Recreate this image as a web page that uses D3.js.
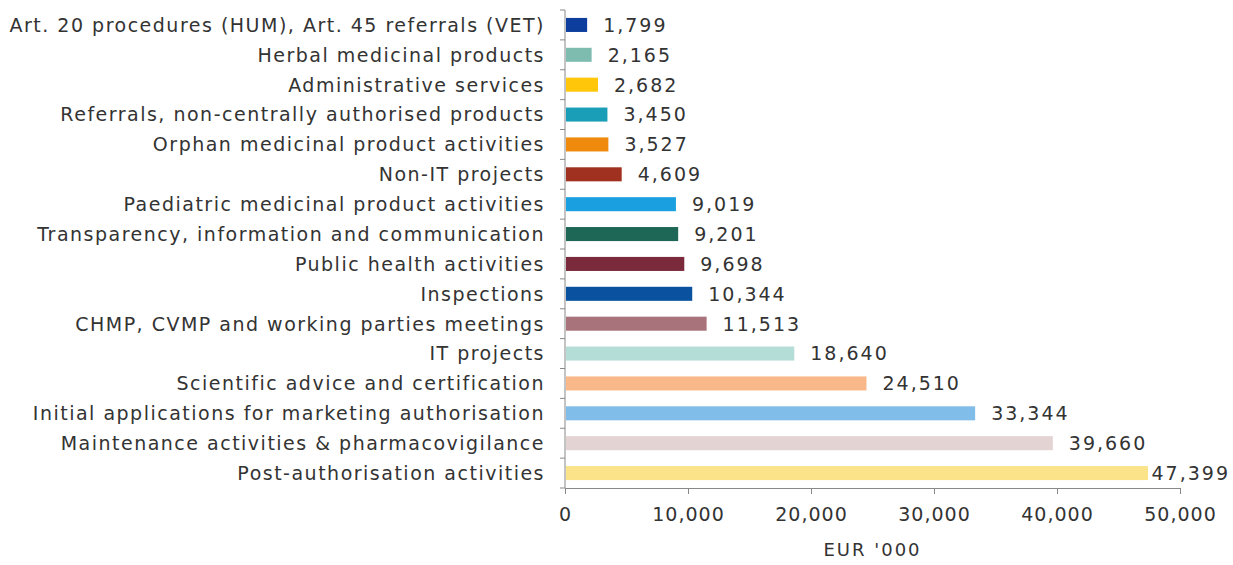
<!DOCTYPE html>
<html>
<head>
<meta charset="utf-8">
<script src="https://cdn.jsdelivr.net/npm/d3@7"></script>
<style>
  body { margin: 0; background: #fff; }
  text { font-family: "DejaVu Sans", Verdana, sans-serif; fill: #333; }
</style>
</head>
<body>
<svg id="chart"></svg>
<script>
// chart size
var width = 1233,
    height = 565;

var categories = [
  "Art. 20 procedures (HUM), Art. 45 referrals (VET)",
  "Herbal medicinal products",
  "Administrative services",
  "Referrals, non-centrally authorised products",
  "Orphan medicinal product activities",
  "Non-IT projects",
  "Paediatric medicinal product activities",
  "Transparency, information and communication",
  "Public health activities",
  "Inspections",
  "CHMP, CVMP and working parties meetings",
  "IT projects",
  "Scientific advice and certification",
  "Initial applications for marketing authorisation",
  "Maintenance activities & pharmacovigilance",
  "Post-authorisation activities"
];
var values = [1799, 2165, 2682, 3450, 3527, 4609, 9019, 9201, 9698, 10344, 11513, 18640, 24510, 33344, 39660, 47399];
var barColors = ["#0d3e9e", "#7fbcb0", "#ffc60a", "#1a9eb8", "#ef8a0c", "#a03020", "#1aa0e0", "#1e6655",
                 "#7b2a3c", "#0a52a0", "#a8737a", "#b5ddd8", "#f9b88a", "#80bde8", "#e3d3d3", "#fbe38a"];
var xTicks = [0, 10000, 20000, 30000, 40000, 50000];
var axisTitle = "EUR '000";

var margin = {top: 10, right: 53, bottom: 77, left: 565};

var svg = d3.select("#chart")
    .attr("width", width)
    .attr("height", height);

var x = d3.scaleLinear()
    .domain([0, 50000])
    .range([margin.left, width - margin.right]);

var y = d3.scaleBand()
    .domain(categories)
    .range([margin.top, height - margin.bottom])
    .paddingInner(0.53)
    .paddingOuter(0.265);

var fmt = d3.format(",");

// bars
svg.append("g")
  .selectAll("rect")
  .data(categories)
  .enter().append("rect")
    .attr("x", x(0) + 1)
    .attr("y", function(d) { return y(d); })
    .attr("width", function(d, i) { return x(values[i]) - x(0) - 1; })
    .attr("height", y.bandwidth())
    .attr("fill", function(d, i) { return barColors[i]; });

// value labels (pulled back in if they would run off the right edge)
svg.append("g")
  .selectAll("text")
  .data(categories)
  .enter().append("text")
    .attr("x", function(d, i) { return x(values[i]) + 16; })
    .attr("y", function(d) { return y(d) + y.bandwidth() / 2; })
    .attr("dy", "0.36em")
    .style("font-size", "19px")
    .style("letter-spacing", "2px")
    .text(function(d, i) { return fmt(values[i]); })
    .each(function() {
      var w = this.getComputedTextLength();
      var x0 = +this.getAttribute("x");
      if (x0 + w > width - 3) this.setAttribute("x", width - 3 - w);
    });

// category axis
var yAxis = svg.append("g")
    .attr("transform", "translate(" + x(0) + ",0)");
yAxis.append("line")
    .attr("y1", margin.top).attr("y2", height - margin.bottom)
    .attr("stroke", "#888");
var step = y.step();
yAxis.selectAll("line.tk")
  .data(d3.range(categories.length + 1))
  .enter().append("line")
    .attr("class", "tk")
    .attr("x1", -5).attr("x2", 0)
    .attr("y1", function(i) { return margin.top + i * step; })
    .attr("y2", function(i) { return margin.top + i * step; })
    .attr("stroke", "#888");
yAxis.selectAll("text")
  .data(categories)
  .enter().append("text")
    .attr("x", -20)
    .attr("y", function(d) { return y(d) + y.bandwidth() / 2; })
    .attr("dy", "0.36em")
    .attr("text-anchor", "end")
    .style("font-size", "19px")
    .style("letter-spacing", "1.5px")
    .text(function(d) { return d; });

// value axis
var xAxis = svg.append("g")
    .attr("transform", "translate(0," + (height - margin.bottom) + ")")
    .call(d3.axisBottom(x).tickValues(xTicks).tickFormat(fmt).tickSize(6).tickPadding(14));
xAxis.select(".domain").attr("stroke", "#888");
xAxis.selectAll(".tick line").attr("stroke", "#888");
xAxis.selectAll("text")
    .style("font-size", "19px")
    .style("letter-spacing", "1px")
    .style("font-family", "\"DejaVu Sans\", Verdana, sans-serif")
    .attr("fill", "#333");

svg.append("text")
    .attr("x", (x(0) + x(50000)) / 2)
    .attr("y", 556)
    .attr("text-anchor", "middle")
    .style("font-size", "18px")
    .style("letter-spacing", "2px")
    .text(axisTitle);
</script>
</body>
</html>
